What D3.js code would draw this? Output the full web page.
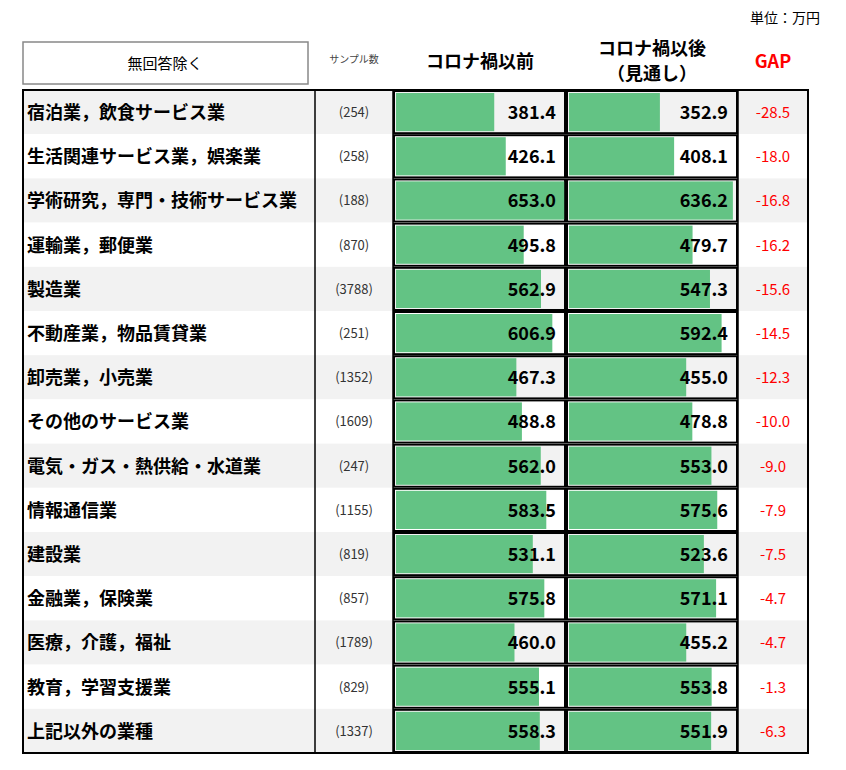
<!DOCTYPE html><html><head><meta charset="utf-8"><script src="https://cdn.jsdelivr.net/npm/d3@7"></script>
<style>body{margin:0;background:#fff}text{font-family:"Noto Sans CJK JP",sans-serif}</style></head><body><svg id="c" width="846" height="770"></svg>
<script>
const categories=["宿泊業，飲食サービス業","生活関連サービス業，娯楽業","学術研究，専門・技術サービス業","運輸業，郵便業","製造業","不動産業，物品賃貸業","卸売業，小売業","その他のサービス業","電気・ガス・熱供給・水道業","情報通信業","建設業","金融業，保険業","医療，介護，福祉","教育，学習支援業","上記以外の業種"];
const samples=[254,258,188,870,3788,251,1352,1609,247,1155,819,857,1789,829,1337];
const before=[381.4,426.1,653.0,495.8,562.9,606.9,467.3,488.8,562.0,583.5,531.1,575.8,460.0,555.1,558.3];
const after=[352.9,408.1,636.2,479.7,547.3,592.4,455.0,478.8,553.0,575.6,523.6,571.1,455.2,553.8,551.9];
const gap=[-28.5,-18.0,-16.8,-16.2,-15.6,-14.5,-12.3,-10.0,-9.0,-7.9,-7.5,-4.7,-4.7,-1.3,-6.3];
const svg=d3.select("#c");
const T0=90,B0=753,L=23,R=808;
const y=d3.scaleBand().domain(categories).range([T0,B0]);
const cols={lab:[L,315],smp:[315,393],b1:[393,566],b2:[566,738],gap:[738,R]};
const w=d3.scaleLinear().domain([0,660]).range([0,170]);
svg.append("text").attr("x",820).attr("y",23).attr("text-anchor","end").attr("font-size",14).text("単位：万円");
svg.append("rect").attr("x",23).attr("y",42).attr("width",285).attr("height",42).attr("fill","#fff").attr("stroke","#888").attr("stroke-width",1.5);
svg.append("text").attr("x",165).attr("y",69).attr("text-anchor","middle").attr("font-size",15).text("無回答除く");
svg.append("text").attr("x",354).attr("y",63).attr("text-anchor","middle").attr("font-size",10).attr("fill","#444").text("サンプル数");
svg.append("text").attr("x",480).attr("y",68).attr("text-anchor","middle").attr("font-size",18).attr("font-weight","bold").text("コロナ禍以前");
svg.append("text").attr("x",652).attr("y",55).attr("text-anchor","middle").attr("font-size",18).attr("font-weight","bold").text("コロナ禍以後");
svg.append("text").attr("x",652).attr("y",80).attr("text-anchor","middle").attr("font-size",18).attr("font-weight","bold").text("（見通し）");
svg.append("text").attr("x",773).attr("y",68).attr("text-anchor","middle").attr("font-size",18).attr("font-weight","bold").attr("fill","#ff0000").text("GAP");
const g=svg.selectAll("g.r").data(categories).join("g").attr("transform",d=>`translate(0,${y(d)})`);
const h=y.bandwidth();
g.append("rect").attr("x",L).attr("width",R-L).attr("height",h).attr("fill",(d,i)=>i%2==0?"#f2f2f2":"#fff");
g.append("text").attr("x",L+4).attr("y",h/2+7).attr("font-size",18).attr("font-weight","bold").text(d=>d);
g.append("text").attr("x",354).attr("y",h/2+5).attr("text-anchor","middle").attr("font-size",13).attr("fill","#333").text((d,i)=>`(${samples[i]})`);
[[before,"b1"],[after,"b2"]].forEach(([arr,c])=>{
 g.append("rect").attr("x",cols[c][0]+1).attr("y",1).attr("width",cols[c][1]-cols[c][0]-2).attr("height",h-2).attr("fill","none").attr("stroke","#000").attr("stroke-width",2);
 g.append("rect").attr("x",cols[c][0]+3).attr("y",3).attr("width",(d,i)=>w(arr[i])).attr("height",h-6).attr("fill","#63c384");
 g.append("text").attr("x",cols[c][1]-10).attr("y",h/2+7).attr("text-anchor","end").attr("font-size",18).attr("font-weight","bold").text((d,i)=>arr[i].toFixed(1));
});
g.append("text").attr("x",773).attr("y",h/2+6).attr("text-anchor","middle").attr("font-size",15).attr("fill","#ff0000").text((d,i)=>gap[i].toFixed(1));
[315,393,738].forEach(x=>svg.append("line").attr("x1",x).attr("x2",x).attr("y1",T0).attr("y2",B0).attr("stroke","#000").attr("stroke-width",1.5));
svg.append("rect").attr("x",L).attr("y",T0).attr("width",R-L).attr("height",B0-T0).attr("fill","none").attr("stroke","#000").attr("stroke-width",2);
</script></body></html>
